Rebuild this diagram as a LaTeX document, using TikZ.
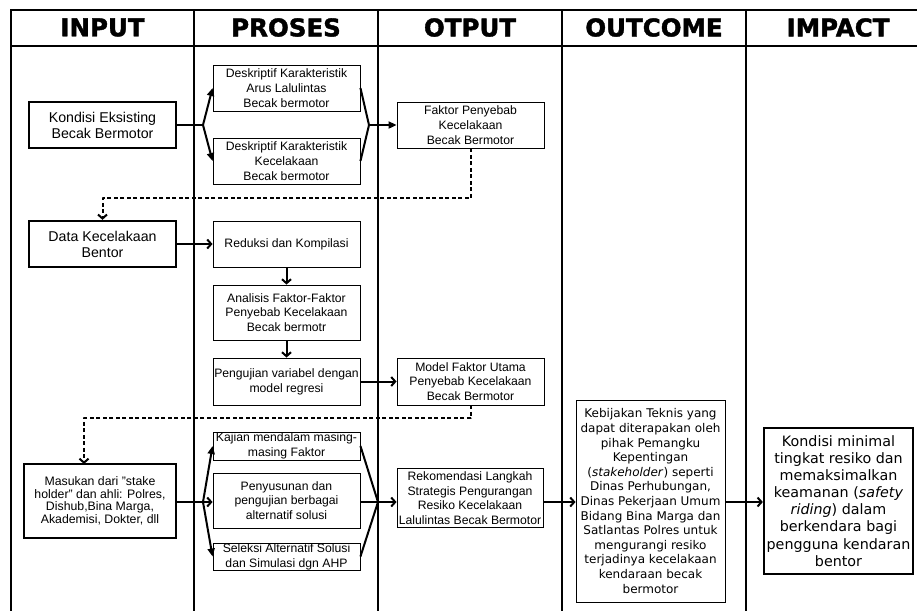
\documentclass[tikz,border=0pt]{standalone}
\usepackage{fontspec}
\setmainfont{Liberation Sans}
\newfontfamily\verd{DejaVu Sans}
\newfontfamily\hdrfont{DejaVu Sans Bold}[FakeBold=1.6]
\usetikzlibrary{arrows.meta}
\begin{document}
\begin{tikzpicture}[x=1pt,y=-1pt,
  frame/.style={line width=2pt},
  pbox/.style={draw, line width=0.9pt, inner sep=0pt, align=center, font=\fontsize{12.2pt}{14.7pt}\selectfont},
  ibox/.style={draw, line width=2.3pt, inner sep=0pt, align=center, font=\fontsize{14.2pt}{16pt}\selectfont},
  conn/.style={line width=2pt, line join=round},
  fillarrow/.style={conn, -{Triangle[length=8pt,width=7pt]}},
  openarrow/.style={conn, -{Straight Barb[length=4pt,width=9pt]}},
  dasharrow/.style={conn, dash pattern=on 4pt off 2.5pt, -{Straight Barb[length=4pt,width=9pt]}},
  hdr/.style={font=\hdrfont\fontsize{24.5pt}{26pt}\selectfont, inner sep=0pt}
]
\useasboundingbox (0,0) rectangle (917,611);
\fill[white] (0,0) rectangle (917,611);

% frame
\draw[frame] (917,10) -- (11,10) -- (11,611);
\draw[frame] (11,46) -- (917,46);
\foreach \x in {194,378,562,746} \draw[frame] (\x,10) -- (\x,611);

% headers
\node[hdr] (h1) at (102.5,27.5) {INPUT};
\node[hdr] (h2) at (286,27.5) {PROSES};
\node[hdr] (h3) at (470,27.5) {OTPUT};
\node[hdr] (h4) at (654,27.5) {OUTCOME};
\node[hdr] (h5) at (838,27.5) {IMPACT};

% row 1
\node[ibox, minimum width=147, minimum height=46] (kondisi) at (102.5,125) {Kondisi Eksisting\\Becak Bermotor};
\node[pbox, minimum width=147, minimum height=46] (desk1) at (286.5,88) {Deskriptif Karakteristik\\Arus Lalulintas\\Becak bermotor};
\node[pbox, minimum width=147, minimum height=46] (desk2) at (286.5,161) {Deskriptif Karakteristik\\Kecelakaan\\Becak bermotor};
\node[pbox, minimum width=147, minimum height=46] (faktor) at (470.5,125) {Faktor Penyebab\\Kecelakaan\\Becak Bermotor};

% row 2
\node[ibox, minimum width=147, minimum height=46] (data) at (102.5,244) {Data Kecelakaan\\Bentor};
\node[pbox, minimum width=147, minimum height=46] (reduksi) at (286.5,244) {Reduksi dan Kompilasi};
\node[pbox, minimum width=147, minimum height=55] (analisis) at (286.5,312.5) {Analisis Faktor-Faktor\\Penyebab Kecelakaan\\Becak bermotr};
\node[pbox, minimum width=147, minimum height=47] (pengujian) at (286.5,381.5) {Pengujian variabel dengan\\model regresi};
\node[pbox, minimum width=147, minimum height=47] (model) at (470.5,381.5) {Model Faktor Utama\\Penyebab Kecelakaan\\Becak Bermotor};

% row 3
\node[ibox, minimum width=152, minimum height=74, font=\fontsize{12.3pt}{12.6pt}\selectfont] (masukan) at (100,501) {Masukan dari ”stake\\holder” dan ahli: Polres,\\Dishub,Bina Marga,\\Akademisi, Dokter, dll};
\node[pbox, minimum width=147, minimum height=28] (kajian) at (286.5,446) {Kajian mendalam masing-\\masing Faktor};
\node[pbox, minimum width=147, minimum height=55] (penyusunan) at (286.5,500.5) {Penyusunan dan\\pengujian berbagai\\alternatif solusi};
\node[pbox, minimum width=147, minimum height=27] (seleksi) at (286.5,556.5) {Seleksi Alternatif Solusi\\dan Simulasi dgn AHP};
\node[pbox, minimum width=146, minimum height=59] (rekom) at (470,498) {Rekomendasi Langkah\\Strategis Pengurangan\\Resiko Kecelakaan\\Lalulintas Becak Bermotor};
\node[draw, line width=0.9pt, inner sep=0pt, align=center, minimum width=149, minimum height=202,
      font=\verd\fontsize{12pt}{14.6pt}\selectfont] (outcome) at (650.5,501)
  {Kebijakan Teknis yang\\dapat diterapakan oleh\\pihak Pemangku\\Kepentingan\\(\textit{stakeholder}) seperti\\Dinas Perhubungan,\\Dinas Pekerjaan Umum\\Bidang Bina Marga dan\\Satlantas Polres untuk\\mengurangi resiko\\terjadinya kecelakaan\\kendaraan becak\\bermotor};
\node[draw, line width=2.3pt, inner sep=0pt, align=center, minimum width=149, minimum height=146,
      font=\verd\fontsize{14.3pt}{17.1pt}\selectfont] (impact) at (838.5,501)
  {Kondisi minimal\\tingkat resiko dan\\memaksimalkan\\keamanan (\textit{safety}\\\textit{riding}) dalam\\berkendara bagi\\pengguna kendaran\\bentor};

% connectors row 1
\coordinate (s1) at (203,125);
\coordinate (m1) at (369,125);
\draw[conn] (kondisi.east) -- (s1);
\draw[fillarrow] (s1) -- (desk1.west);
\draw[fillarrow] (s1) -- (desk2.west);
\draw[conn] (desk1.east) -- (m1) -- (desk2.east);
\draw[fillarrow] (m1) -- (faktor.west);
\draw[dasharrow] (faktor.south) -- ++(0,50) -| (data.north);

% connectors row 2
\draw[openarrow] (data.east) -- (reduksi.west);
\draw[openarrow] (reduksi.south) -- (analisis.north);
\draw[openarrow] (analisis.south) -- (pengujian.north);
\draw[openarrow] (pengujian.east) -- (model.west);
\coordinate (masin) at (84,464);
\draw[dasharrow] (model.south) -- ++(0,13) -| (masin);

% connectors row 3
\coordinate (s2) at (203,502);
\coordinate (m2) at (378,502);
\draw[conn] (s2 -| masukan.east) -- (s2);
\draw[fillarrow] (s2) -- (kajian.west);
\draw[openarrow] (s2) -- (s2 -| penyusunan.west);
\draw[fillarrow] (s2) -- (seleksi.west);
\draw[conn] (kajian.east) -- (m2) -- (seleksi.east);
\draw[conn] (m2 -| penyusunan.east) -- (m2);
\draw[openarrow] (m2) -- (m2 -| rekom.west);
\draw[openarrow] (m2 -| rekom.east) -- (m2 -| outcome.west);
\draw[openarrow] (m2 -| outcome.east) -- (m2 -| impact.west);
\end{tikzpicture}
\end{document}
